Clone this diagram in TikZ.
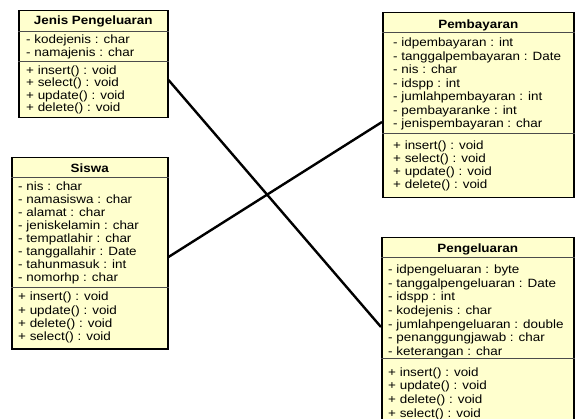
\documentclass[tikz,border=0pt]{standalone}
\usepackage{fontspec}
\setmainfont{Liberation Sans}[FakeStretch=1.12]
\definecolor{classfill}{RGB}{255,255,206}
\tikzset{
  classbox/.style={draw=black, line width=1.5pt, fill=classfill, anchor=north west, inner sep=0pt},
  sepline/.style={draw=black!70, line width=0.8pt},
  title/.style={font=\fontsize{12}{13}\selectfont\bfseries, anchor=base, inner sep=0pt},
  member/.style={font=\fontsize{12}{13}\selectfont, anchor=base west, inner sep=0pt},
  assoc/.style={draw=black, line width=2.4pt}
}
\begin{document}
\begin{tikzpicture}[x=1pt, y=-1pt]
  \useasboundingbox (0,0) rectangle (575,419);

  % Kelas
  \node[classbox, minimum width=149pt, minimum height=107pt] (jenis) at (18,10) {};
  \node[classbox, minimum width=191pt, minimum height=185pt] (pembayaran) at (382,12) {};
  \node[classbox, minimum width=156pt, minimum height=191pt] (siswa) at (11,157) {};
  \node[classbox, minimum width=192pt, minimum height=186pt] (pengeluaran) at (381,237) {};

  % Garis pemisah
  \draw[sepline] (jenis.west |- 0,31) -- (jenis.east |- 0,31);
  \draw[sepline] (jenis.west |- 0,61) -- (jenis.east |- 0,61);
  \draw[sepline] (pembayaran.west |- 0,32) -- (pembayaran.east |- 0,32);
  \draw[sepline] (pembayaran.west |- 0,133) -- (pembayaran.east |- 0,133);
  \draw[sepline] (siswa.west |- 0,177) -- (siswa.east |- 0,177);
  \draw[sepline] (siswa.west |- 0,287) -- (siswa.east |- 0,287);
  \draw[sepline] (pengeluaran.west |- 0,257) -- (pengeluaran.east |- 0,257);
  \draw[sepline] (pengeluaran.west |- 0,358) -- (pengeluaran.east |- 0,358);

  % Nama kelas
  \node[title] (jenis-title) at (jenis.north |- 0,24.5) {Jenis Pengeluaran};
  \node[title] (pembayaran-title) at (pembayaran.north |- 0,28.5) {Pembayaran};
  \node[title] (siswa-title) at (siswa.north |- 0,172.5) {Siswa};
  \node[title] (pengeluaran-title) at (pengeluaran.north |- 0,252.5) {Pengeluaran};

  % Atribut dan operasi
  \foreach \m [count=\i from 0] in {- kodejenis : char, - namajenis : char}
    \node[member] (jenis-a\i) at (26,{44+12.5*\i}) {\m};
  \foreach \m [count=\i from 0] in {+ insert() : void, + select() : void, + update() : void, + delete() : void}
    \node[member] (jenis-o\i) at (26,{74.5+12.3*\i}) {\m};

  \foreach \m [count=\i from 0] in {- idpembayaran : int, - tanggalpembayaran : Date, - nis : char, - idspp : int,
      - jumlahpembayaran : int, - pembayaranke : int, - jenispembayaran : char}
    \node[member] (pembayaran-a\i) at (393,{47+13.5*\i}) {\m};
  \foreach \m [count=\i from 0] in {+ insert() : void, + select() : void, + update() : void, + delete() : void}
    \node[member] (pembayaran-o\i) at (393,{150+13*\i}) {\m};

  \foreach \m [count=\i from 0] in {- nis : char, - namasiswa : char, - alamat : char, - jeniskelamin : char,
      - tempatlahir : char, - tanggallahir : Date, - tahunmasuk : int, - nomorhp : char}
    \node[member] (siswa-a\i) at (18,{191+13*\i}) {\m};
  \foreach \m [count=\i from 0] in {+ insert() : void, + update() : void, + delete() : void, + select() : void}
    \node[member] (siswa-o\i) at (18,{301+13.3*\i}) {\m};

  \foreach \m [count=\i from 0] in {- idpengeluaran : byte, - tanggalpengeluaran : Date, - idspp : int, - kodejenis : char,
      - jumlahpengeluaran : double, - penanggungjawab : char, - keterangan : char}
    \node[member] (pengeluaran-a\i) at (388,{274+13.5*\i}) {\m};
  \foreach \m [count=\i from 0] in {+ insert() : void, + update() : void, + delete() : void, + select() : void}
    \node[member] (pengeluaran-o\i) at (388,{376+13.7*\i}) {\m};

  % Relasi
  \draw[assoc] (jenis.east |- 0,80) -- (pengeluaran.west |- 0,327);
  \draw[assoc] (siswa.east |- 0,257) -- (pembayaran.west |- 0,122);
\end{tikzpicture}
\end{document}
